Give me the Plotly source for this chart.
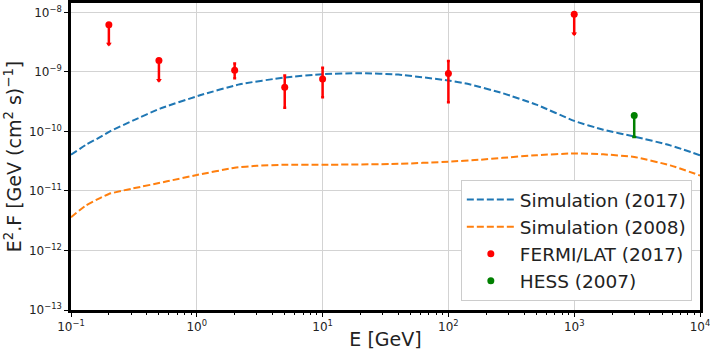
import plotly.graph_objects as go

# ---- data ----
sim17_E = [0.1, 0.133, 0.17, 0.204, 0.313, 0.51, 1.06, 2.2, 5, 10, 20, 40, 100, 147, 272, 500, 1000, 1700, 3000, 5800, 10000]
sim17_F = [4.05e-11, 6.04e-11, 8.0e-11, 1.0e-10, 1.53e-10, 2.41e-10, 4.04e-10, 6.19e-10, 8.05e-10, 9.14e-10,
           9.5e-10, 9.0e-10, 7.16e-10, 6.2e-10, 4.36e-10, 2.82e-10, 1.5e-10, 1.07e-10, 8.2e-11, 5.83e-11, 3.98e-11]

sim08_E = [0.1, 0.13, 0.17, 0.2, 0.25, 0.31, 0.58, 1.0, 2.0, 3.0, 5, 10, 40, 100, 180, 270, 500, 1000, 1700, 3000, 5800, 10000]
sim08_F = [3.62e-12, 5.6e-12, 7.6e-12, 8.9e-12, 1.0e-11, 1.1e-11, 1.45e-11, 1.85e-11, 2.45e-11, 2.65e-11, 2.75e-11, 2.75e-11,
           2.85e-11, 3.1e-11, 3.35e-11, 3.6e-11, 3.98e-11, 4.27e-11, 4.12e-11, 3.72e-11, 2.69e-11, 1.82e-11]

fermi_E = [0.2, 0.5, 2, 5, 10, 100, 1000]
fermi_F = [6.2e-9, 1.56e-9, 1.07e-9, 5.5e-10, 7.6e-10, 9.4e-10, 9.25e-9]
fermi_lo = [2.95e-9, 7.2e-10, 7.8e-10, 2.5e-10, 3.75e-10, 3.1e-10, 4.36e-9]
fermi_hi = [6.2e-9, 1.56e-9, 1.38e-9, 8.7e-10, 1.17e-9, 1.53e-9, 9.25e-9]
fermi_ul = [True, True, False, False, False, False, True]

hess_E = [3000]
hess_F = [1.85e-10]
hess_lo = [8.05e-11]
hess_hi = [1.85e-10]

xtick_vals = [0.1, 1, 10, 100, 1000, 10000]
xtick_text = ["10<sup>−1</sup>", "10<sup>0</sup>", "10<sup>1</sup>", "10<sup>2</sup>", "10<sup>3</sup>", "10<sup>4</sup>"]
ytick_vals = [1e-13, 1e-12, 1e-11, 1e-10, 1e-9, 1e-8]
ytick_text = ["10<sup>−13</sup>", "10<sup>−12</sup>", "10<sup>−11</sup>", "10<sup>−10</sup>", "10<sup>−9</sup>", "10<sup>−8</sup>"]

FONT = "DejaVu Sans"
TXT = "#222222"
fig = go.Figure()

fig.add_trace(go.Scatter(x=sim17_E, y=sim17_F, mode="lines", name="Simulation (2017)",
                         line=dict(color="#1f77b4", width=2, dash="7px,3px", shape="spline", smoothing=0.5)))
fig.add_trace(go.Scatter(x=sim08_E, y=sim08_F, mode="lines", name="Simulation (2008)",
                         line=dict(color="#ff7f0e", width=2, dash="7px,3px", shape="spline", smoothing=0.5)))

fig.add_trace(go.Scatter(
    x=fermi_E, y=fermi_F, mode="markers", name="FERMI/LAT (2017)",
    marker=dict(color="red", size=7),
    error_y=dict(type="data", symmetric=False,
                 array=[h - f for h, f in zip(fermi_hi, fermi_F)],
                 arrayminus=[f - l for f, l in zip(fermi_F, fermi_lo)],
                 color="red", thickness=2.5, width=1.5)))
# arrowheads for upper limits
fig.add_trace(go.Scatter(
    x=[e for e, u in zip(fermi_E, fermi_ul) if u],
    y=[l for l, u in zip(fermi_lo, fermi_ul) if u],
    mode="markers", showlegend=False, hoverinfo="skip",
    marker=dict(color="red", size=5, symbol="triangle-down")))

fig.add_trace(go.Scatter(
    x=hess_E, y=hess_F, mode="markers", name="HESS (2007)",
    marker=dict(color="green", size=7),
    error_y=dict(type="data", symmetric=False,
                 array=[h - f for h, f in zip(hess_hi, hess_F)],
                 arrayminus=[f - l for f, l in zip(hess_F, hess_lo)],
                 color="green", thickness=2.5, width=2)))

fig.update_layout(
    width=710, height=354,
    margin=dict(l=71, r=10, t=3, b=44),
    paper_bgcolor="white", plot_bgcolor="white",
    font=dict(family=FONT, color=TXT),
    showlegend=True,
    legend=dict(x=0.987, y=0.029, xanchor="right", yanchor="bottom",
                itemwidth=48,
                bgcolor="white", bordercolor="#cccccc", borderwidth=1,
                font=dict(size=18.5, family=FONT, color=TXT)),
)

fig.update_xaxes(
    type="log", range=[-1, 4], automargin=False,
    tickmode="array", tickvals=xtick_vals, ticktext=xtick_text,
    tickfont=dict(size=12, family=FONT, color=TXT), ticklabeloverflow="allow",
    ticks="outside", ticklen=4, tickwidth=1, tickcolor="black",
    showgrid=True, gridcolor="#d3d3d3", gridwidth=1,
    showline=True, linecolor="black", linewidth=2.5, mirror=True,
    zeroline=False,
    minor=dict(ticks="outside", ticklen=2, tickcolor="black", dtick="D1", showgrid=False),
    title=dict(text="E [GeV]", font=dict(size=19, family=FONT, color=TXT), standoff=0),
)
fig.update_yaxes(
    type="log", range=[-13, -7.843], automargin=False,
    tickmode="array", tickvals=ytick_vals, ticktext=ytick_text,
    tickfont=dict(size=12, family=FONT, color=TXT), ticklabeloverflow="allow",
    ticks="outside", ticklen=4, tickwidth=1, tickcolor="black",
    showgrid=True, gridcolor="#d3d3d3", gridwidth=1,
    showline=True, linecolor="black", linewidth=2.5, mirror=True,
    zeroline=False,
    title=dict(text="E<sup>2</sup>.F [GeV (cm<sup>2</sup> s)<sup>−1</sup>]",
               font=dict(size=19, family=FONT, color=TXT), standoff=3),
)

fig.write_html("out.html", config={"displayModeBar": False},
               post_script="document.body.style.margin='0';document.body.style.overflow='hidden';")
